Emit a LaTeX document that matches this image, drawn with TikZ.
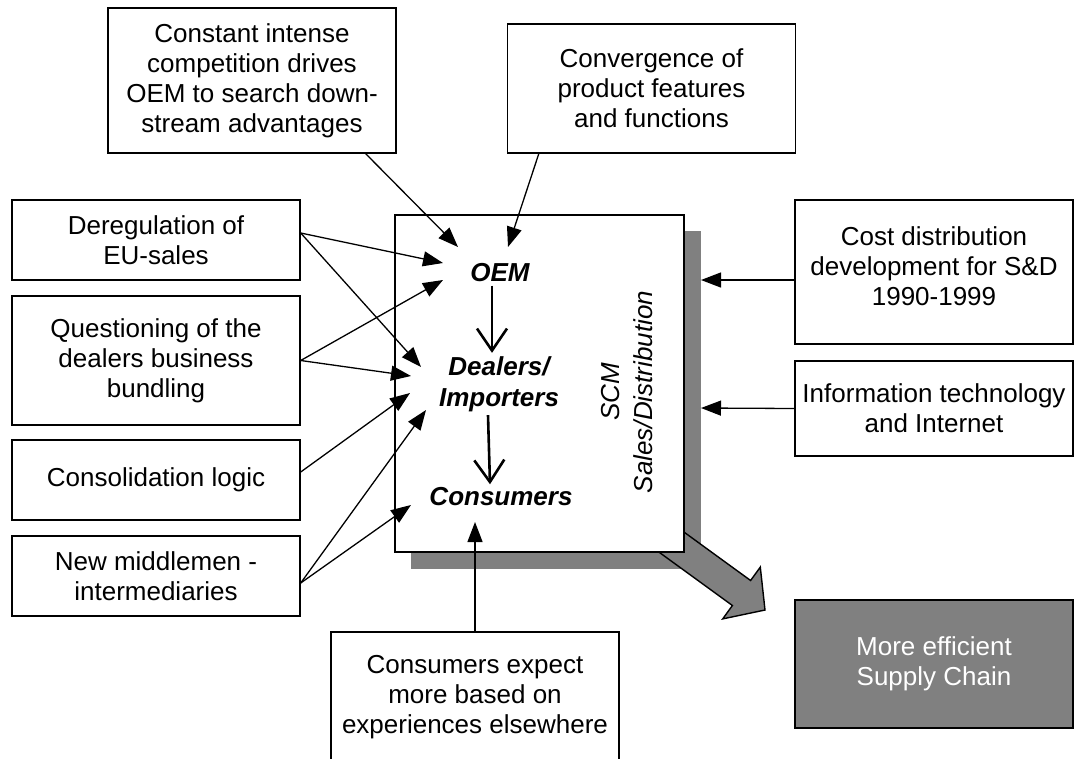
\documentclass[tikz,border=0pt]{standalone}
\usepackage{fontspec}
\setmainfont{Liberation Sans}
\usetikzlibrary{arrows.meta, positioning}
\definecolor{boxgray}{HTML}{808080}

\begin{document}
\begin{tikzpicture}[x=1pt, y=-1pt,
  factor/.style={draw, line width=1.4pt, align=center, minimum width=288pt, inner sep=2pt, font=\fontsize{26}{30}\selectfont},
  side/.style={factor, minimum width=278pt},
  push/.style={-{Triangle[length=20pt, width=15pt]}, line width=1.3pt},
  flow/.style={-{Straight Barb[length=22pt, width=30pt]}, line width=2.6pt},
  actor/.style={align=center, font=\fontsize{26}{31}\selectfont\bfseries\itshape}]
\useasboundingbox (0,0) rectangle (1074,758);

% factor boxes
\node [factor, minimum height=145pt] (comp) at (252,80.5) {Constant intense\\competition drives\\OEM to search down-\\stream advantages};
\node [factor, minimum height=129pt] (conv) at (651.5,88.5) {Convergence of\\product features\\and functions};
\node [factor, minimum height=80pt] (dereg) at (156,240) {Deregulation of\\EU-sales};
\node [factor, minimum height=129pt] (quest) at (156,360.5) {Questioning of the\\dealers business\\bundling};
\node [factor, minimum height=80pt] (consol) at (156,480) {Consolidation logic};
\node [factor, minimum height=80pt] (middle) at (156,576) {New middlemen -\\intermediaries};
\node [side, minimum height=144pt] (cost) at (934,272) {\\[-22pt]Cost distribution\\development for S\&D\\1990-1999};
\node [side, minimum height=95pt] (info) at (934,408.5) {Information technology\\and Internet};
\node [factor, minimum height=130pt] (expect) at (475,697) {Consumers expect\\more based on\\experiences elsewhere};
\node [side, minimum height=128pt, fill=boxgray, text=white] (supply) at (934,664) {More efficient\\Supply Chain};

% SCM box with shadow and outlet arrow
\fill [boxgray] (411,231) rectangle (701,569);
\draw [line width=1.4pt, fill=boxgray, line join=miter]
  (661.6,515.8) -- (750.6,580.5) -- (760.3,567.1) -- (765,610) -- (722.7,618.9) -- (732.4,605.5) -- (643.4,540.8) -- cycle;
\node [draw, line width=1.4pt, fill=white, minimum width=289pt, minimum height=337pt] (scm) at (539.5,383.5) {};

\node [actor] (oem) at (500,273) {OEM};
\node [actor] (dealers) at (499,384) {Dealers/\\Importers};
\node [actor] (consumers) at (501,497) {Consumers};
\node [align=center, rotate=90, font=\fontsize{26}{33}\selectfont\itshape] (sd) at (627,392) {SCM\\Sales/Distribution};

\draw [flow] ([xshift=-8pt]oem.south) -- ([xshift=-7pt]dealers.north);
\draw [flow] ([xshift=-11pt]dealers.south) -- ([xshift=-11pt]consumers.north);

% arrow ends inside the SCM box
\coordinate (oem1) at (458,247);
\coordinate (oem2) at (508,247);
\coordinate (oem3) at (443,263);
\coordinate (oem4) at (443,280);
\coordinate (dl1) at (421,367);
\coordinate (dl2) at (411,376);
\coordinate (dl3) at (410,393);
\coordinate (dl4) at (426,410);
\coordinate (cs1) at (411,505);
\coordinate (cs2) at (475,522);
\coordinate (sd1) at (701,280);
\coordinate (sd2) at (701,408);

\draw [push] ([xshift=-31pt]comp.south east) -- (oem1);
\draw [push] ([xshift=32pt]conv.south west) -- (oem2);
\draw [push] ([yshift=7pt]dereg.east) -- (oem3);
\draw [push] ([yshift=7pt]dereg.east) -- (dl1);
\draw [push] (quest.east) -- (oem4);
\draw [push] (quest.east) -- (dl2);
\draw [push] ([yshift=8pt]consol.east) -- (dl3);
\draw [push] ([yshift=-7pt]middle.east) -- (dl4);
\draw [push] ([yshift=-7pt]middle.east) -- (cs1);
\draw [push] (expect.north) -- (cs2);
\draw [push] ([yshift=-8pt]cost.west) -- (sd1);
\draw [push] (info.west) -- (sd2);
\end{tikzpicture}
\end{document}
